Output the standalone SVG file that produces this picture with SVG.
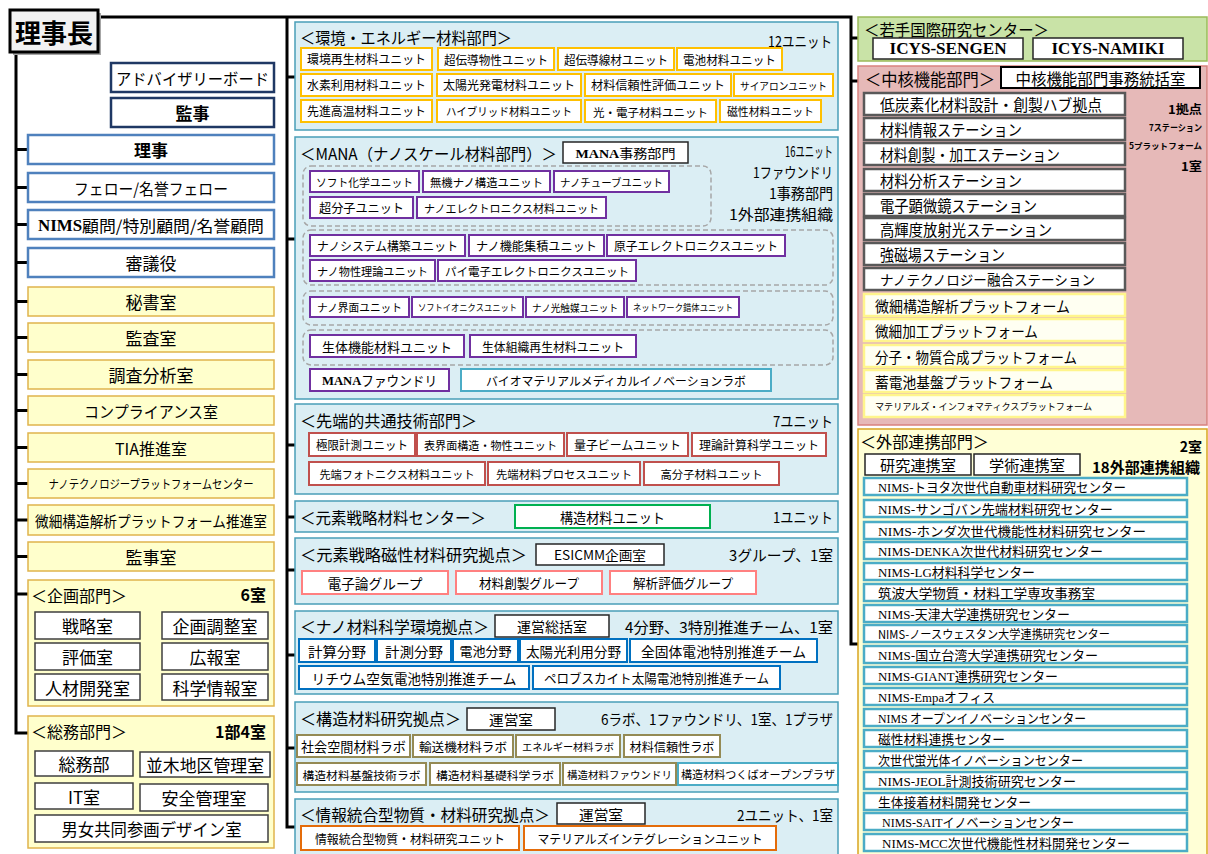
<svg xmlns="http://www.w3.org/2000/svg" width="1208" height="854" viewBox="0 0 1208 854">
<style>
text{font-family:"Noto Sans CJK JP","Noto Sans CJK SC","Noto Sans",sans-serif;dominant-baseline:central;fill:#000}
.c{text-anchor:middle}
.e{text-anchor:end}
.s{font-family:"Liberation Serif","DejaVu Serif",serif;font-weight:bold}
.sr{font-family:"Liberation Serif","DejaVu Serif",serif}
.b{font-weight:bold}
.mb{fill:#DBEEF4;stroke:#4A9EB8;stroke-width:1.5}
.uor{fill:#fff;stroke:#FFC000;stroke-width:2}
.upu{fill:#fff;stroke:#7030A0;stroke-width:2}
.ute{fill:#fff;stroke:#4BACC6;stroke-width:2}
.urd{fill:#fff;stroke:#C0504D;stroke-width:2}
.ugr{fill:#fff;stroke:#00B050;stroke-width:2}
.upk{fill:#fff;stroke:#FF8080;stroke-width:2}
.ubl{fill:#fff;stroke:#0070C0;stroke-width:2}
.uol{fill:#fff;stroke:#948A54;stroke-width:2}
.uog{fill:#fff;stroke:#E46C0A;stroke-width:2}
.ubk{fill:#fff;stroke:#262626;stroke-width:1.5}
.dash{fill:none;stroke:#A6A6A6;stroke-width:1.5;stroke-dasharray:5 3}
.lnv{fill:#fff;stroke:#1F3864;stroke-width:2.5}
.lbl{fill:#fff;stroke:#4F81BD;stroke-width:2.5}
.lye{fill:#FFFFCC;stroke:#E0B44C;stroke-width:1.5}
.sub{fill:#fff;stroke:#3F3F3F;stroke-width:1.5}
.ggr{fill:#C9E3A7;stroke:#9BBB59;stroke-width:1.5}
.gpk{fill:#E6B9B8;stroke:#D9827F;stroke-width:1.5}
.gye{fill:#FFFFD6;stroke:#D9A520;stroke-width:1.5}
.st{fill:#fff;stroke:#595959;stroke-width:2.5}
.pf{fill:#FFFFF2;stroke:#FFF58C;stroke-width:2.5}
.ex{fill:#fff;stroke:#4BACC6;stroke-width:2.5}
</style>
<rect width="1208" height="854" fill="#fff"/>

<g id="connectors" fill="none" stroke="#000" stroke-width="3">
<path d="M98,17H851V644H858"/>
<path d="M851,38H858M851,81H858"/>
<path d="M287,17V827H295"/>
<path d="M287,77H295M287,239H295M287,445H295M287,517H295M287,570H295M287,655H295M287,748H295"/>
<path d="M16,52V733H28"/>
<path d="M16,149.5H28M16,187.5H28M16,224.5H28M16,262.5H28M16,301.5H28M16,337.5H28M16,374.5H28M16,410.5H28M16,447.5H28M16,483.5H28M16,520H28M16,556.5H28M16,594H28"/>
</g>

<!-- Left column -->
<g id="rijicho">
<rect x="13" y="13" width="88" height="42" fill="#A6A6A6"/>
<rect x="10" y="10" width="88" height="42" fill="#F2F2F2" stroke="#000" stroke-width="3"/>
<text x="54" y="31" class="c b" font-size="26">理事長</text>
</g>
<g id="advisory"><rect class="lnv" x="111" y="63" width="163" height="29"/><text x="192.5" y="77.5" class="c" font-size="16" textLength="153" lengthAdjust="spacingAndGlyphs">アドバイザリーボード</text></g>
<g id="kanji"><rect class="lnv" x="111" y="98" width="163" height="29"/><text x="192.5" y="112.5" class="c b" font-size="17">監事</text></g>
<g id="riji"><rect class="lbl" x="28" y="135" width="246" height="29"/><text x="151" y="149.5" class="c b" font-size="17">理事</text></g>
<g id="fellow"><rect class="lbl" x="28" y="173" width="246" height="29"/><text x="151" y="187.5" class="c" font-size="16" textLength="154" lengthAdjust="spacingAndGlyphs">フェロー/名誉フェロー</text></g>
<g id="komon"><rect class="lbl" x="28" y="210" width="246" height="29"/><text x="151" y="224.5" class="c" font-size="16" textLength="226" lengthAdjust="spacingAndGlyphs"><tspan class="s">NIMS</tspan>顧問/特別顧問/名誉顧問</text></g>
<g id="shingi"><rect class="lbl" x="28" y="248" width="246" height="29"/><text x="151" y="262.5" class="c" font-size="17">審議役</text></g>
<g id="hisho"><rect class="lye" x="28" y="287" width="246" height="29"/><text x="151" y="301.5" class="c" font-size="17">秘書室</text></g>
<g id="kansa"><rect class="lye" x="28" y="323" width="246" height="29"/><text x="151" y="337.5" class="c" font-size="17">監査室</text></g>
<g id="chosa"><rect class="lye" x="28" y="360" width="246" height="29"/><text x="151" y="374.5" class="c" font-size="17">調査分析室</text></g>
<g id="compliance"><rect class="lye" x="28" y="396" width="246" height="29"/><text x="151" y="410.5" class="c" font-size="16" textLength="134" lengthAdjust="spacingAndGlyphs">コンプライアンス室</text></g>
<g id="tia"><rect class="lye" x="28" y="433" width="246" height="29"/><text x="151" y="447.5" class="c" font-size="16">TIA推進室</text></g>
<g id="nanotechpf"><rect class="lye" x="28" y="469" width="246" height="29"/><text x="151" y="483.5" class="c" font-size="12" textLength="205" lengthAdjust="spacingAndGlyphs">ナノテクノロジープラットフォームセンター</text></g>
<g id="bisaipf"><rect class="lye" x="28" y="505" width="246" height="30"/><text x="151" y="520" class="c" font-size="14.5" textLength="232" lengthAdjust="spacingAndGlyphs">微細構造解析プラットフォーム推進室</text></g>
<g id="kanjishitsu"><rect class="lye" x="28" y="542" width="246" height="29"/><text x="151" y="556.5" class="c" font-size="17">監事室</text></g>

<g id="kikaku">
<rect class="lye" x="28" y="580" width="246" height="126"/>
<text x="31" y="595" font-size="16" textLength="96" lengthAdjust="spacingAndGlyphs">＜企画部門＞</text>
<text x="266" y="594" class="e b" font-size="16">6室</text>
</g>
<g id="senryaku"><rect class="sub" x="35" y="612" width="105" height="27"/><text x="87.5" y="625.5" class="c" font-size="17">戦略室</text></g>
<g id="kikakuchosei"><rect class="sub" x="162" y="612" width="106" height="27"/><text x="215" y="625.5" class="c" font-size="17">企画調整室</text></g>
<g id="hyoka"><rect class="sub" x="35" y="643" width="105" height="27"/><text x="87.5" y="656.5" class="c" font-size="17">評価室</text></g>
<g id="koho"><rect class="sub" x="162" y="643" width="106" height="27"/><text x="215" y="656.5" class="c" font-size="17">広報室</text></g>
<g id="jinzai"><rect class="sub" x="35" y="674" width="105" height="26"/><text x="87.5" y="687" class="c" font-size="17">人材開発室</text></g>
<g id="kagakujoho"><rect class="sub" x="162" y="674" width="106" height="26"/><text x="215" y="687" class="c" font-size="17">科学情報室</text></g>

<g id="somu">
<rect class="lye" x="28" y="716" width="246" height="132"/>
<text x="31" y="731" font-size="16" textLength="96" lengthAdjust="spacingAndGlyphs">＜総務部門＞</text>
<text x="266" y="731" class="e b" font-size="16">1部4室</text>
</g>
<g id="somubu"><rect class="sub" x="35" y="751" width="98" height="25"/><text x="84" y="763.5" class="c" font-size="17">総務部</text></g>
<g id="namiki"><rect class="sub" x="140" y="752" width="130" height="25"/><text x="205" y="764.5" class="c" font-size="17" textLength="118" lengthAdjust="spacingAndGlyphs">並木地区管理室</text></g>
<g id="it"><rect class="sub" x="35" y="783" width="98" height="26"/><text x="84" y="796" class="c" font-size="17">IT室</text></g>
<g id="anzen"><rect class="sub" x="140" y="784" width="128" height="27"/><text x="204" y="797.5" class="c" font-size="17">安全管理室</text></g>
<g id="danjo"><rect class="sub" x="35" y="815" width="233" height="27"/><text x="151.5" y="828.5" class="c" font-size="17" textLength="180" lengthAdjust="spacingAndGlyphs">男女共同参画デザイン室</text></g>

<!-- Middle column -->
<g id="kankyo">
<rect class="mb" x="295" y="22" width="543" height="108"/>
<text x="300" y="37" font-size="16" textLength="212" lengthAdjust="spacingAndGlyphs">＜環境・エネルギー材料部門＞</text>
<text x="832" y="40" class="e" font-size="15" textLength="64" lengthAdjust="spacingAndGlyphs">12ユニット</text>
</g>
<g id="e1"><rect class="uor" x="301" y="48" width="131" height="22"/><text x="366.5" y="59" class="c" font-size="12.3" textLength="119" lengthAdjust="spacingAndGlyphs">環境再生材料ユニット</text></g>
<g id="e2"><rect class="uor" x="438" y="48" width="116" height="22"/><text x="496" y="59" class="c" font-size="12" textLength="104" lengthAdjust="spacingAndGlyphs">超伝導物性ユニット</text></g>
<g id="e3"><rect class="uor" x="558" y="48" width="116" height="22"/><text x="616" y="59" class="c" font-size="12" textLength="104" lengthAdjust="spacingAndGlyphs">超伝導線材ユニット</text></g>
<g id="e4"><rect class="uor" x="677" y="48" width="105" height="22"/><text x="729.5" y="59" class="c" font-size="12" textLength="93" lengthAdjust="spacingAndGlyphs">電池材料ユニット</text></g>
<g id="e5"><rect class="uor" x="301" y="74" width="131" height="22"/><text x="366.5" y="85" class="c" font-size="12.3" textLength="119" lengthAdjust="spacingAndGlyphs">水素利用材料ユニット</text></g>
<g id="e6"><rect class="uor" x="437" y="74" width="144" height="22"/><text x="509" y="85" class="c" font-size="12.3" textLength="132" lengthAdjust="spacingAndGlyphs">太陽光発電材料ユニット</text></g>
<g id="e7"><rect class="uor" x="585" y="74" width="146" height="22"/><text x="658" y="85" class="c" font-size="12.3" textLength="134" lengthAdjust="spacingAndGlyphs">材料信頼性評価ユニット</text></g>
<g id="e8"><rect class="uor" x="734" y="74" width="99" height="22"/><text x="783.5" y="85" class="c" font-size="10.5" textLength="87" lengthAdjust="spacingAndGlyphs">サイアロンユニット</text></g>
<g id="e9"><rect class="uor" x="301" y="100" width="131" height="22"/><text x="366.5" y="111" class="c" font-size="12.3" textLength="119" lengthAdjust="spacingAndGlyphs">先進高温材料ユニット</text></g>
<g id="e10"><rect class="uor" x="437" y="100" width="144" height="22"/><text x="509" y="111" class="c" font-size="11" textLength="126" lengthAdjust="spacingAndGlyphs">ハイブリッド材料ユニット</text></g>
<g id="e11"><rect class="uor" x="585" y="100" width="131" height="22"/><text x="650.5" y="111" class="c" font-size="11.8" textLength="115" lengthAdjust="spacingAndGlyphs">光・電子材料ユニット</text></g>
<g id="e12"><rect class="uor" x="720" y="100" width="101" height="22"/><text x="770.5" y="111" class="c" font-size="11.3" textLength="87" lengthAdjust="spacingAndGlyphs">磁性材料ユニット</text></g>

<g id="mana">
<rect class="mb" x="295" y="137" width="543" height="262"/>
<text x="300" y="153" font-size="16" textLength="257" lengthAdjust="spacingAndGlyphs">＜MANA（ナノスケール材料部門）＞</text>
<text x="833" y="150" class="e" font-size="15" textLength="48" lengthAdjust="spacingAndGlyphs">16ユニット</text>
<text x="833" y="171" class="e" font-size="15" textLength="80" lengthAdjust="spacingAndGlyphs">1ファウンドリ</text>
<text x="833" y="192" class="e" font-size="15" textLength="64" lengthAdjust="spacingAndGlyphs">1事務部門</text>
<text x="833" y="213" class="e" font-size="15" textLength="104" lengthAdjust="spacingAndGlyphs">1外部連携組織</text>
<rect class="dash" x="303" y="166" width="408" height="60" rx="8"/>
<rect class="dash" x="303" y="230" width="530" height="55" rx="8"/>
<rect class="dash" x="303" y="291" width="530" height="34" rx="8"/>
<rect class="dash" x="303" y="330" width="530" height="35" rx="8"/>
</g>
<g id="mana-jimu"><rect class="ubk" x="563" y="142" width="125" height="21"/><text x="625.5" y="152.5" class="c" font-size="13" textLength="100" lengthAdjust="spacingAndGlyphs"><tspan class="s">MANA</tspan>事務部門</text></g>
<g id="m1"><rect class="upu" x="310" y="171" width="109" height="21"/><text x="364.5" y="181.5" class="c" font-size="11.2" textLength="97" lengthAdjust="spacingAndGlyphs">ソフト化学ユニット</text></g>
<g id="m2"><rect class="upu" x="423" y="171" width="127" height="21"/><text x="486.5" y="181.5" class="c" font-size="11.7" textLength="113" lengthAdjust="spacingAndGlyphs">無機ナノ構造ユニット</text></g>
<g id="m3"><rect class="upu" x="554" y="171" width="115" height="21"/><text x="611.5" y="181.5" class="c" font-size="10.8" textLength="103" lengthAdjust="spacingAndGlyphs">ナノチューブユニット</text></g>
<g id="m4"><rect class="upu" x="310" y="197" width="103" height="21"/><text x="361.5" y="207.5" class="c" font-size="12.5" textLength="85" lengthAdjust="spacingAndGlyphs">超分子ユニット</text></g>
<g id="m5"><rect class="upu" x="417" y="197" width="189" height="21"/><text x="511.5" y="207.5" class="c" font-size="11.2" textLength="175" lengthAdjust="spacingAndGlyphs">ナノエレクトロニクス材料ユニット</text></g>
<g id="m6"><rect class="upu" x="310" y="235" width="155" height="21"/><text x="387.5" y="245.5" class="c" font-size="12" textLength="141" lengthAdjust="spacingAndGlyphs">ナノシステム構築ユニット</text></g>
<g id="m7"><rect class="upu" x="469" y="235" width="135" height="21"/><text x="536.5" y="245.5" class="c" font-size="12.3" textLength="121" lengthAdjust="spacingAndGlyphs">ナノ機能集積ユニット</text></g>
<g id="m8"><rect class="upu" x="607" y="235" width="178" height="21"/><text x="696" y="245.5" class="c" font-size="12" textLength="164" lengthAdjust="spacingAndGlyphs">原子エレクトロニクスユニット</text></g>
<g id="m9"><rect class="upu" x="310" y="260" width="125" height="21"/><text x="372.5" y="270.5" class="c" font-size="11.5" textLength="111" lengthAdjust="spacingAndGlyphs">ナノ物性理論ユニット</text></g>
<g id="m10"><rect class="upu" x="438" y="260" width="198" height="21"/><text x="537" y="270.5" class="c" font-size="11.7" textLength="184" lengthAdjust="spacingAndGlyphs">パイ電子エレクトロニクスユニット</text></g>
<g id="m11"><rect class="upu" x="310" y="297" width="99" height="20"/><text x="359.5" y="307" class="c" font-size="11" textLength="85" lengthAdjust="spacingAndGlyphs">ナノ界面ユニット</text></g>
<g id="m12"><rect class="upu" x="412" y="297" width="111" height="20"/><text x="467.5" y="307" class="c" font-size="9" textLength="99" lengthAdjust="spacingAndGlyphs">ソフトイオニクスユニット</text></g>
<g id="m13"><rect class="upu" x="526" y="297" width="98" height="20"/><text x="575" y="307" class="c" font-size="10" textLength="86" lengthAdjust="spacingAndGlyphs">ナノ光触媒ユニット</text></g>
<g id="m14"><rect class="upu" x="627" y="297" width="112" height="20"/><text x="683" y="307" class="c" font-size="9" textLength="100" lengthAdjust="spacingAndGlyphs">ネットワーク錯体ユニット</text></g>
<g id="m15"><rect class="upu" x="310" y="335" width="154" height="22"/><text x="387" y="346" class="c" font-size="13" textLength="130" lengthAdjust="spacingAndGlyphs">生体機能材料ユニット</text></g>
<g id="m16"><rect class="upu" x="470" y="335" width="166" height="22"/><text x="553" y="346" class="c" font-size="12" textLength="142" lengthAdjust="spacingAndGlyphs">生体組織再生材料ユニット</text></g>
<g id="m17"><rect class="upu" x="310" y="369" width="139" height="22"/><text x="379.5" y="380" class="c" font-size="13.5" textLength="115" lengthAdjust="spacingAndGlyphs"><tspan class="s">MANA</tspan>ファウンドリ</text></g>
<g id="m18"><rect class="ute" x="461" y="369" width="310" height="22"/><text x="616" y="380" class="c" font-size="12" textLength="260" lengthAdjust="spacingAndGlyphs">バイオマテリアルメディカルイノベーションラボ</text></g>

<g id="sentan">
<rect class="mb" x="295" y="404" width="543" height="90"/>
<text x="300" y="420" font-size="16" textLength="177" lengthAdjust="spacingAndGlyphs">＜先端的共通技術部門＞</text>
<text x="833" y="420" class="e" font-size="15" textLength="60" lengthAdjust="spacingAndGlyphs">7ユニット</text>
</g>
<g id="s1"><rect class="urd" x="309" y="433" width="106" height="23"/><text x="362" y="444.5" class="c" font-size="12" textLength="92" lengthAdjust="spacingAndGlyphs">極限計測ユニット</text></g>
<g id="s2"><rect class="urd" x="417" y="433" width="147" height="23"/><text x="490.5" y="444.5" class="c" font-size="11.4" textLength="133" lengthAdjust="spacingAndGlyphs">表界面構造・物性ユニット</text></g>
<g id="s3"><rect class="urd" x="567" y="433" width="121" height="23"/><text x="627.5" y="444.5" class="c" font-size="12" textLength="107" lengthAdjust="spacingAndGlyphs">量子ビームユニット</text></g>
<g id="s4"><rect class="urd" x="692" y="433" width="134" height="23"/><text x="759" y="444.5" class="c" font-size="12.2" textLength="120" lengthAdjust="spacingAndGlyphs">理論計算科学ユニット</text></g>
<g id="s5"><rect class="urd" x="309" y="462" width="176" height="23"/><text x="397" y="473.5" class="c" font-size="11.4" textLength="155" lengthAdjust="spacingAndGlyphs">先端フォトニクス材料ユニット</text></g>
<g id="s6"><rect class="urd" x="488" y="462" width="152" height="23"/><text x="564" y="473.5" class="c" font-size="11.7" textLength="136" lengthAdjust="spacingAndGlyphs">先端材料プロセスユニット</text></g>
<g id="s7"><rect class="urd" x="644" y="462" width="135" height="23"/><text x="711.5" y="473.5" class="c" font-size="11.7" textLength="102" lengthAdjust="spacingAndGlyphs">高分子材料ユニット</text></g>

<g id="genso">
<rect class="mb" x="295" y="501" width="543" height="31"/>
<text x="300" y="516.5" font-size="16" textLength="186" lengthAdjust="spacingAndGlyphs">＜元素戦略材料センター＞</text>
<text x="833" y="516.5" class="e" font-size="15" textLength="60" lengthAdjust="spacingAndGlyphs">1ユニット</text>
</g>
<g id="kozo-unit"><rect class="ugr" x="515" y="505" width="195" height="23"/><text x="612.5" y="516.5" class="c" font-size="14" textLength="105" lengthAdjust="spacingAndGlyphs">構造材料ユニット</text></g>

<g id="esicmm">
<rect class="mb" x="295" y="538" width="543" height="66"/>
<text x="300" y="554" font-size="16" textLength="227" lengthAdjust="spacingAndGlyphs">＜元素戦略磁性材料研究拠点＞</text>
<text x="833" y="554" class="e" font-size="15" textLength="104" lengthAdjust="spacingAndGlyphs">3グループ、1室</text>
</g>
<g id="esicmm-kikaku"><rect class="ubk" x="536" y="544" width="128" height="21"/><text x="600" y="554.5" class="c" font-size="13" textLength="92" lengthAdjust="spacingAndGlyphs">ESICMM企画室</text></g>
<g id="g1"><rect class="upk" x="302" y="571" width="146" height="23"/><text x="375" y="582.5" class="c" font-size="14" textLength="95" lengthAdjust="spacingAndGlyphs">電子論グループ</text></g>
<g id="g2"><rect class="upk" x="456" y="571" width="146" height="23"/><text x="529" y="582.5" class="c" font-size="13" textLength="100" lengthAdjust="spacingAndGlyphs">材料創製グループ</text></g>
<g id="g3"><rect class="upk" x="610" y="571" width="146" height="23"/><text x="683" y="582.5" class="c" font-size="13" textLength="100" lengthAdjust="spacingAndGlyphs">解析評価グループ</text></g>

<g id="nano-kankyo">
<rect class="mb" x="295" y="611" width="543" height="83"/>
<text x="300" y="626" font-size="16" textLength="189" lengthAdjust="spacingAndGlyphs">＜ナノ材料科学環境拠点＞</text>
<text x="833" y="626" class="e" font-size="15" textLength="208" lengthAdjust="spacingAndGlyphs">4分野、3特別推進チーム、1室</text>
</g>
<g id="unei-sokatsu"><rect class="ubk" x="495" y="615" width="114" height="22"/><text x="552" y="626" class="c" font-size="14" textLength="70" lengthAdjust="spacingAndGlyphs">運営総括室</text></g>
<g id="n1"><rect class="ubl" x="299" y="639" width="76" height="23"/><text x="337" y="650.5" class="c" font-size="14" textLength="58" lengthAdjust="spacingAndGlyphs">計算分野</text></g>
<g id="n2"><rect class="ubl" x="377" y="639" width="74" height="23"/><text x="414" y="650.5" class="c" font-size="14" textLength="58" lengthAdjust="spacingAndGlyphs">計測分野</text></g>
<g id="n3"><rect class="ubl" x="453" y="639" width="65" height="23"/><text x="485.5" y="650.5" class="c" font-size="13" textLength="52" lengthAdjust="spacingAndGlyphs">電池分野</text></g>
<g id="n4"><rect class="ubl" x="520" y="639" width="107" height="23"/><text x="573.5" y="650.5" class="c" font-size="13.5" textLength="95" lengthAdjust="spacingAndGlyphs">太陽光利用分野</text></g>
<g id="n5"><rect class="ubl" x="630" y="639" width="187" height="23"/><text x="723.5" y="650.5" class="c" font-size="14" textLength="165" lengthAdjust="spacingAndGlyphs">全固体電池特別推進チーム</text></g>
<g id="n6"><rect class="ubl" x="299" y="666" width="230" height="23"/><text x="414" y="677.5" class="c" font-size="14" textLength="205" lengthAdjust="spacingAndGlyphs">リチウム空気電池特別推進チーム</text></g>
<g id="n7"><rect class="ubl" x="533" y="666" width="247" height="23"/><text x="656.5" y="677.5" class="c" font-size="12.8" textLength="225" lengthAdjust="spacingAndGlyphs">ペロブスカイト太陽電池特別推進チーム</text></g>

<g id="kozo">
<rect class="mb" x="295" y="702" width="543" height="90"/>
<text x="300" y="718" font-size="16" textLength="161" lengthAdjust="spacingAndGlyphs">＜構造材料研究拠点＞</text>
<text x="833" y="718" class="e" font-size="15" textLength="232" lengthAdjust="spacingAndGlyphs">6ラボ、1ファウンドリ、1室、1プラザ</text>
</g>
<g id="kozo-unei"><rect class="ubk" x="467" y="708" width="88" height="22"/><text x="511" y="719" class="c" font-size="14" textLength="44" lengthAdjust="spacingAndGlyphs">運営室</text></g>
<g id="k1"><rect class="uol" x="297" y="735" width="113" height="22"/><text x="353.5" y="746" class="c" font-size="13.2" textLength="105" lengthAdjust="spacingAndGlyphs">社会空間材料ラボ</text></g>
<g id="k2"><rect class="uol" x="413" y="735" width="100" height="22"/><text x="463" y="746" class="c" font-size="12.5" textLength="88" lengthAdjust="spacingAndGlyphs">輸送機材料ラボ</text></g>
<g id="k3"><rect class="uol" x="516" y="735" width="104" height="22"/><text x="568" y="746" class="c" font-size="10.5" textLength="92" lengthAdjust="spacingAndGlyphs">エネルギー材料ラボ</text></g>
<g id="k4"><rect class="uol" x="624" y="735" width="96" height="22"/><text x="672" y="746" class="c" font-size="12" textLength="85" lengthAdjust="spacingAndGlyphs">材料信頼性ラボ</text></g>
<g id="k5"><rect class="uol" x="297" y="763" width="129" height="22"/><text x="361.5" y="774" class="c" font-size="11.8" textLength="118" lengthAdjust="spacingAndGlyphs">構造材料基盤技術ラボ</text></g>
<g id="k6"><rect class="uol" x="430" y="763" width="130" height="22"/><text x="495" y="774" class="c" font-size="11.8" textLength="118" lengthAdjust="spacingAndGlyphs">構造材料基礎科学ラボ</text></g>
<g id="k7"><rect class="uol" x="563" y="763" width="113" height="22"/><text x="619.5" y="774" class="c" font-size="10.7" textLength="105" lengthAdjust="spacingAndGlyphs">構造材料ファウンドリ</text></g>
<g id="k8"><rect class="ute" x="678" y="763" width="160" height="22"/><text x="758" y="774" class="c" font-size="11" textLength="154" lengthAdjust="spacingAndGlyphs">構造材料つくばオープンプラザ</text></g>

<g id="joho">
<rect class="mb" x="295" y="799" width="543" height="60"/>
<text x="300" y="814" font-size="16" textLength="250" lengthAdjust="spacingAndGlyphs">＜情報統合型物質・材料研究拠点＞</text>
<text x="833" y="814" class="e" font-size="15" textLength="96" lengthAdjust="spacingAndGlyphs">2ユニット、1室</text>
</g>
<g id="joho-unei"><rect class="ubk" x="557" y="803" width="88" height="21"/><text x="601" y="813.5" class="c" font-size="14" textLength="44" lengthAdjust="spacingAndGlyphs">運営室</text></g>
<g id="j1"><rect class="uog" x="301" y="826" width="218" height="24"/><text x="410" y="838" class="c" font-size="12.5" textLength="190" lengthAdjust="spacingAndGlyphs">情報統合型物質・材料研究ユニット</text></g>
<g id="j2"><rect class="uog" x="524" y="826" width="252" height="24"/><text x="650" y="838" class="c" font-size="12.5" textLength="225" lengthAdjust="spacingAndGlyphs">マテリアルズインテグレーションユニット</text></g>

<!-- Right column -->
<g id="icys">
<rect class="ggr" x="858" y="17" width="349" height="44"/>
<text x="864" y="29" font-size="16" textLength="185" lengthAdjust="spacingAndGlyphs">＜若手国際研究センター＞</text>
</g>
<g id="icys-sengen"><rect class="ubk" x="873" y="38" width="150" height="21"/><text x="948" y="48.5" class="c s" font-size="17" textLength="117" lengthAdjust="spacingAndGlyphs">ICYS-SENGEN</text></g>
<g id="icys-namiki"><rect class="ubk" x="1033" y="38" width="150" height="21"/><text x="1108" y="48.5" class="c s" font-size="17" textLength="113" lengthAdjust="spacingAndGlyphs">ICYS-NAMIKI</text></g>

<g id="chukaku">
<rect class="gpk" x="858" y="66" width="349" height="359"/>
<text x="865" y="78" font-size="17" textLength="130" lengthAdjust="spacingAndGlyphs">＜中核機能部門＞</text>
<text x="1202" y="108" class="e b" font-size="12" textLength="34" lengthAdjust="spacingAndGlyphs">1拠点</text>
<text x="1202" y="127" class="e b" font-size="9" textLength="53" lengthAdjust="spacingAndGlyphs">7ステーション</text>
<text x="1202" y="145" class="e b" font-size="8.5" textLength="73" lengthAdjust="spacingAndGlyphs">5プラットフォーム</text>
<text x="1202" y="165" class="e b" font-size="12" textLength="21" lengthAdjust="spacingAndGlyphs">1室</text>
</g>
<g id="chukaku-jimu"><rect x="1001" y="67" width="199" height="21" fill="#fff" stroke="#000" stroke-width="2"/><text x="1100.5" y="77.5" class="c" font-size="15.5" textLength="170" lengthAdjust="spacingAndGlyphs">中核機能部門事務統括室</text></g>
<g id="c1"><rect class="st" x="864" y="93" width="261" height="22"/><text x="880" y="104" font-size="15.5" textLength="222" lengthAdjust="spacingAndGlyphs">低炭素化材料設計・創製ハブ拠点</text></g>
<g id="c2"><rect class="st" x="864" y="118" width="261" height="22"/><text x="880" y="129" font-size="15.5" textLength="142" lengthAdjust="spacingAndGlyphs">材料情報ステーション</text></g>
<g id="c3"><rect class="st" x="864" y="143" width="261" height="22"/><text x="880" y="154" font-size="15.5" textLength="180" lengthAdjust="spacingAndGlyphs">材料創製・加工ステーション</text></g>
<g id="c4"><rect class="st" x="864" y="169" width="261" height="22"/><text x="880" y="180" font-size="15.5" textLength="142" lengthAdjust="spacingAndGlyphs">材料分析ステーション</text></g>
<g id="c5"><rect class="st" x="864" y="194" width="261" height="22"/><text x="880" y="205" font-size="15.5" textLength="157" lengthAdjust="spacingAndGlyphs">電子顕微鏡ステーション</text></g>
<g id="c6"><rect class="st" x="864" y="218" width="261" height="22"/><text x="880" y="229" font-size="15.5" textLength="172" lengthAdjust="spacingAndGlyphs">高輝度放射光ステーション</text></g>
<g id="c7"><rect class="st" x="864" y="243" width="261" height="22"/><text x="880" y="254" font-size="15.5" textLength="125" lengthAdjust="spacingAndGlyphs">強磁場ステーション</text></g>
<g id="c8"><rect class="st" x="864" y="268" width="261" height="22"/><text x="880" y="279" font-size="14" textLength="215" lengthAdjust="spacingAndGlyphs">ナノテクノロジー融合ステーション</text></g>
<g id="p1"><rect class="pf" x="864" y="294" width="261" height="22"/><text x="875" y="305" font-size="14.5" textLength="195" lengthAdjust="spacingAndGlyphs">微細構造解析プラットフォーム</text></g>
<g id="p2"><rect class="pf" x="864" y="319" width="261" height="22"/><text x="875" y="330" font-size="14.5" textLength="163" lengthAdjust="spacingAndGlyphs">微細加工プラットフォーム</text></g>
<g id="p3"><rect class="pf" x="864" y="345" width="261" height="22"/><text x="875" y="356" font-size="14.5" textLength="202" lengthAdjust="spacingAndGlyphs">分子・物質合成プラットフォーム</text></g>
<g id="p4"><rect class="pf" x="864" y="370" width="261" height="22"/><text x="875" y="381" font-size="14.5" textLength="178" lengthAdjust="spacingAndGlyphs">蓄電池基盤プラットフォーム</text></g>
<g id="p5"><rect class="pf" x="864" y="395" width="261" height="22"/><text x="875" y="406" font-size="9.5" textLength="217" lengthAdjust="spacingAndGlyphs">マテリアルズ・インフォマティクスプラットフォーム</text></g>

<g id="gaibu">
<rect class="gye" x="858" y="429" width="349" height="430"/>
<text x="860" y="441" font-size="16" textLength="129" lengthAdjust="spacingAndGlyphs">＜外部連携部門＞</text>
<text x="1202" y="446" class="e b" font-size="14">2室</text>
<text x="1200" y="466" class="e b" font-size="15" textLength="108" lengthAdjust="spacingAndGlyphs">18外部連携組織</text>
</g>
<g id="kenkyu-renkei"><rect class="ubk" x="865" y="454" width="106" height="21"/><text x="918" y="464.5" class="c" font-size="15" textLength="76" lengthAdjust="spacingAndGlyphs">研究連携室</text></g>
<g id="gakujutsu-renkei"><rect class="ubk" x="974" y="454" width="106" height="21"/><text x="1027" y="464.5" class="c" font-size="15" textLength="76" lengthAdjust="spacingAndGlyphs">学術連携室</text></g>
<g id="x1"><rect class="ex" x="864" y="478" width="323" height="17"/><text x="878" y="486.5" font-size="13" textLength="248" lengthAdjust="spacingAndGlyphs"><tspan class="sr">NIMS</tspan>-トヨタ次世代自動車材料研究センター</text></g>
<g id="x2"><rect class="ex" x="864" y="500" width="323" height="17"/><text x="878" y="508.5" font-size="13" textLength="235" lengthAdjust="spacingAndGlyphs"><tspan class="sr">NIMS</tspan>-サンゴバン先端材料研究センター</text></g>
<g id="x3"><rect class="ex" x="864" y="522" width="323" height="17"/><text x="878" y="530.5" font-size="13" textLength="268" lengthAdjust="spacingAndGlyphs"><tspan class="sr">NIMS</tspan>-ホンダ次世代機能性材料研究センター</text></g>
<g id="x4"><rect class="ex" x="864" y="542" width="323" height="17"/><text x="878" y="550.5" font-size="13" textLength="225" lengthAdjust="spacingAndGlyphs"><tspan class="sr">NIMS-DENKA</tspan>次世代材料研究センター</text></g>
<g id="x5"><rect class="ex" x="864" y="563" width="323" height="17"/><text x="878" y="571.5" font-size="13" textLength="157" lengthAdjust="spacingAndGlyphs"><tspan class="sr">NIMS-LG</tspan>材料科学センター</text></g>
<g id="x6"><rect class="ex" x="864" y="584" width="323" height="17"/><text x="878" y="592.5" font-size="13" textLength="217" lengthAdjust="spacingAndGlyphs">筑波大学物質・材料工学専攻事務室</text></g>
<g id="x7"><rect class="ex" x="864" y="605" width="323" height="17"/><text x="878" y="613.5" font-size="13" textLength="192" lengthAdjust="spacingAndGlyphs"><tspan class="sr">NIMS</tspan>-天津大学連携研究センター</text></g>
<g id="x8"><rect class="ex" x="864" y="625" width="323" height="17"/><text x="878" y="633.5" font-size="12" textLength="232" lengthAdjust="spacingAndGlyphs">NIMS-ノースウェスタン大学連携研究センター</text></g>
<g id="x9"><rect class="ex" x="864" y="646" width="323" height="17"/><text x="878" y="654.5" font-size="13" textLength="220" lengthAdjust="spacingAndGlyphs"><tspan class="sr">NIMS</tspan>-国立台湾大学連携研究センター</text></g>
<g id="x10"><rect class="ex" x="864" y="667" width="323" height="17"/><text x="878" y="675.5" font-size="13" textLength="180" lengthAdjust="spacingAndGlyphs"><tspan class="sr">NIMS-GIANT</tspan>連携研究センター</text></g>
<g id="x11"><rect class="ex" x="864" y="688" width="323" height="17"/><text x="878" y="696.5" font-size="13" textLength="117" lengthAdjust="spacingAndGlyphs"><tspan class="sr">NIMS-Empa</tspan>オフィス</text></g>
<g id="x12"><rect class="ex" x="864" y="709" width="323" height="17"/><text x="878" y="717.5" font-size="13" textLength="208" lengthAdjust="spacingAndGlyphs"><tspan class="sr">NIMS</tspan> オープンイノベーションセンター</text></g>
<g id="x13"><rect class="ex" x="864" y="730" width="323" height="17"/><text x="878" y="738.5" font-size="13" textLength="127" lengthAdjust="spacingAndGlyphs">磁性材料連携センター</text></g>
<g id="x14"><rect class="ex" x="864" y="751" width="323" height="17"/><text x="878" y="759.5" font-size="13" textLength="205" lengthAdjust="spacingAndGlyphs">次世代蛍光体イノベーションセンター</text></g>
<g id="x15"><rect class="ex" x="864" y="772" width="323" height="17"/><text x="878" y="780.5" font-size="13" textLength="198" lengthAdjust="spacingAndGlyphs"><tspan class="sr">NIMS-JEOL</tspan>計測技術研究センター</text></g>
<g id="x16"><rect class="ex" x="864" y="793" width="323" height="17"/><text x="878" y="801.5" font-size="13" textLength="153" lengthAdjust="spacingAndGlyphs">生体接着材料開発センター</text></g>
<g id="x17"><rect class="ex" x="864" y="813" width="323" height="17"/><text x="882" y="821.5" font-size="13" textLength="192" lengthAdjust="spacingAndGlyphs"><tspan class="sr">NIMS-SAIT</tspan>イノベーションセンター</text></g>
<g id="x18"><rect class="ex" x="864" y="834" width="323" height="17"/><text x="882" y="842.5" font-size="13" textLength="248" lengthAdjust="spacingAndGlyphs"><tspan class="sr">NIMS-MCC</tspan>次世代機能性材料開発センター</text></g>
</svg>
